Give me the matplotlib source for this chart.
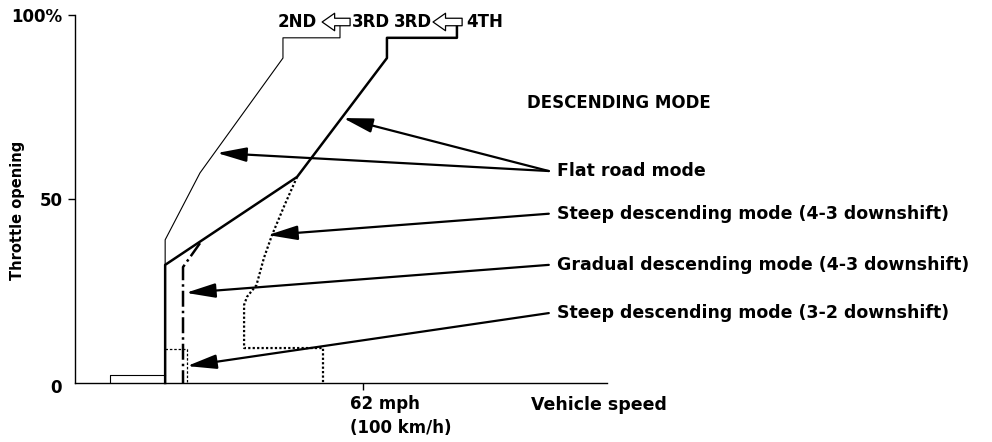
import matplotlib.pyplot as plt

plt.rcParams['font.family'] = ['DejaVu Sans']
plt.rcParams['font.weight'] = 'bold'

# velocidad en km/h, apertura de mariposa en %
flat_23_speed = [31.3, 31.3, 43.4, 72.2, 72.2, 92.0, 92.0]
flat_23_thr = [0, 38.9, 57.1, 88.3, 93.8, 93.8, 97.6]

flat_34_speed = [31.3, 31.3, 77.1, 108.3, 108.3, 132.6, 132.6]
flat_34_thr = [0, 32.1, 56.0, 88.3, 93.8, 93.8, 97.6]

idle_speed = [12.2, 12.2, 31.3]
idle_thr = [0, 2.2, 2.2]

steep_43_speed = [77.1, 72.9, 68.4, 65.6, 63.0, 59.7, 58.7, 58.7, 86.1, 86.1]
steep_43_thr = [56.0, 48.6, 40.2, 34.0, 26.6, 23.4, 21.2, 9.5, 9.5, 0]

gradual_43_speed = [43.4, 37.5, 37.5]
gradual_43_thr = [38.0, 31.5, 0]

steep_32_speed = [31.3, 38.9, 38.9]
steep_32_thr = [9.2, 9.2, 0]

# textos y flechas
label_names = ["Flat road mode", "Steep descending mode (4-3 downshift)",
               "Gradual descending mode (4-3 downshift)",
               "Steep descending mode (3-2 downshift)"]
label_thr = [57.6, 46.0, 32.1, 19.0]
arrow_targets = [[(49.3, 62.5), (93.1, 72.0)], [(67.0, 40.2)], [(38.5, 24.5)], [(38.9, 4.6)]]

fig = plt.figure(figsize=(9.92, 4.42), dpi=100)
ax = fig.add_axes([75 / 992, 59 / 442, 532 / 992, 368 / 442])
ax.set_xlim(0, 184.7)
ax.set_ylim(0, 100)

ax.plot(flat_23_speed, flat_23_thr, color='k', lw=0.8, clip_on=False)
ax.plot(flat_34_speed, flat_34_thr, color='k', lw=1.8, clip_on=False)
ax.plot(idle_speed, idle_thr, color='k', lw=0.8)
ax.plot(steep_43_speed, steep_43_thr, color='k', lw=1.6, ls=(0, (1, 1)))
ax.plot(gradual_43_speed, gradual_43_thr, color='k', lw=1.8, ls='-.')
ax.plot(steep_32_speed, steep_32_thr, color='k', lw=0.9, ls=(0, (2, 1.5)))

# etiquetas de los modos con flechas
for name, y, targets in zip(label_names, label_thr, arrow_targets):
    ax.text(167.4, y, name, fontsize=12.5, va='center', ha='left', clip_on=False)
    for tx, ty in targets:
        ax.annotate('', xy=(tx, ty), xytext=(164.5, y), annotation_clip=False,
                    arrowprops=dict(arrowstyle='-|>,head_length=0.9,head_width=0.22',
                                    mutation_scale=20, lw=1.6, color='k',
                                    shrinkA=0, shrinkB=0))

ax.text(156.9, 76.1, "DESCENDING MODE", fontsize=12, va='center', ha='left')

# cambios arriba
ax.text(84.0, 98.1, "2ND", fontsize=12, ha='right', va='center', clip_on=False)
ax.text(96.2, 98.1, "3RD", fontsize=12, ha='left', va='center', clip_on=False)
ax.text(124.0, 98.1, "3RD", fontsize=12, ha='right', va='center', clip_on=False)
ax.text(135.8, 98.1, "4TH", fontsize=12, ha='left', va='center', clip_on=False)
for x0, x1 in [(95.5, 85.8), (134.4, 124.3)]:
    ax.annotate('', xy=(x1, 98.1), xytext=(x0, 98.1), annotation_clip=False,
                arrowprops=dict(arrowstyle='simple,head_length=0.5,head_width=0.7,tail_width=0.3',
                                mutation_scale=18, fc='white', ec='k', lw=0.9,
                                shrinkA=0, shrinkB=0))

ax.spines['top'].set_visible(False)
ax.spines['right'].set_visible(False)
ax.spines['left'].set_linewidth(1)
ax.spines['bottom'].set_linewidth(1)

ax.set_yticks([50, 100])
ax.set_yticklabels(['50', '100%'], fontsize=12)
ax.tick_params(axis='y', direction='out', length=5, width=1, pad=4)
ax.set_xticks([100])
ax.set_xticklabels([''])
ax.tick_params(axis='x', direction='out', length=5, width=1)

fig.text(50 / 992, 1 - 388 / 442, "0", fontsize=12, ha='left', va='center')
fig.text(18 / 992, 1 - 210 / 442, "Throttle opening", fontsize=10.5,
         rotation=90, ha='center', va='center')
fig.text(350 / 992, 1 - 395 / 442, "62 mph\n(100 km/h)", fontsize=12,
         ha='left', va='top', linespacing=1.45)
fig.text(531 / 992, 1 - 405 / 442, "Vehicle speed", fontsize=12.5,
         ha='left', va='center')

fig.savefig('out.png', dpi=100)
